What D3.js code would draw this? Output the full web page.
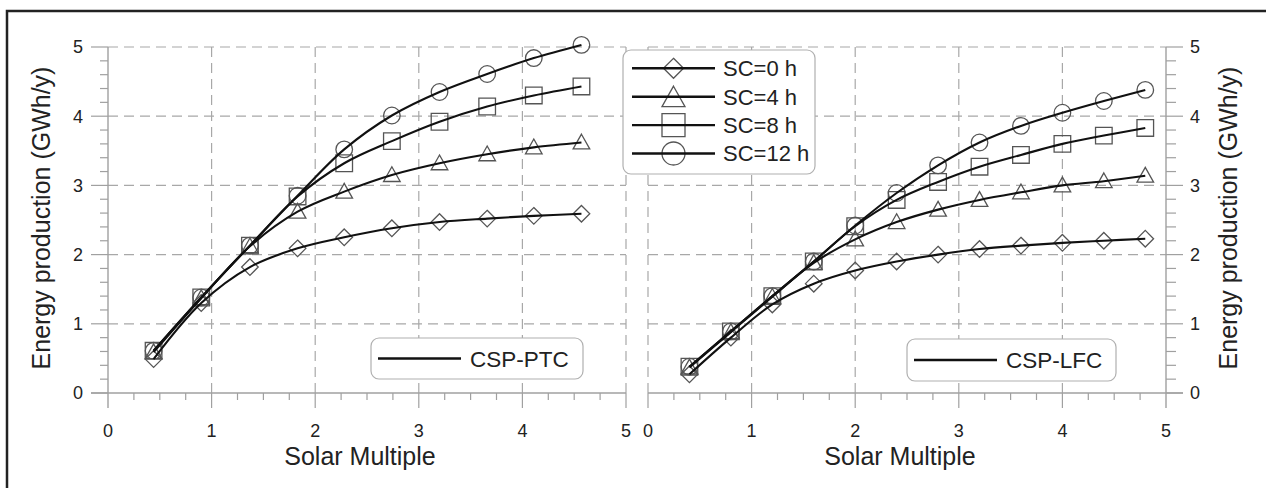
<!DOCTYPE html>
<html>
<head>
<meta charset="utf-8">
<script src="https://cdn.jsdelivr.net/npm/d3@7"></script>
<style>
  html, body { margin: 0; padding: 0; background: #fff; }
  svg { display: block; font-family: "Liberation Sans", Arial, sans-serif; }
</style>
</head>
<body>
<svg id="chart" width="1266" height="488"></svg>
<script>
// ---------- data ----------
const seriesNames = ["SC=0 h", "SC=4 h", "SC=8 h", "SC=12 h"];
const markerTypes = ["diamond", "triangle", "square", "circle"];

const ptcX    = [0.44, 0.90, 1.37, 1.83, 2.28, 2.74, 3.20, 3.66, 4.11, 4.57];
const ptcSC0  = [0.49, 1.30, 1.82, 2.09, 2.25, 2.38, 2.47, 2.52, 2.56, 2.59];
const ptcSC4  = [0.59, 1.37, 2.12, 2.62, 2.91, 3.15, 3.32, 3.45, 3.55, 3.62];
const ptcSC8  = [0.61, 1.38, 2.13, 2.84, 3.32, 3.64, 3.92, 4.14, 4.30, 4.43];
const ptcSC12 = [0.61, 1.38, 2.13, 2.85, 3.52, 4.01, 4.35, 4.61, 4.84, 5.03];

const lfcX    = [0.4, 0.8, 1.2, 1.6, 2.0, 2.4, 2.8, 3.2, 3.6, 4.0, 4.4, 4.8];
const lfcSC0  = [0.27, 0.80, 1.28, 1.58, 1.77, 1.90, 2.00, 2.08, 2.13, 2.17, 2.20, 2.23];
const lfcSC4  = [0.37, 0.88, 1.39, 1.88, 2.22, 2.47, 2.65, 2.79, 2.90, 3.00, 3.06, 3.14];
const lfcSC8  = [0.38, 0.89, 1.40, 1.90, 2.41, 2.79, 3.05, 3.27, 3.44, 3.60, 3.72, 3.83];
const lfcSC12 = [0.38, 0.89, 1.40, 1.90, 2.42, 2.89, 3.29, 3.62, 3.86, 4.05, 4.22, 4.38];

const xTicks = [0, 1, 2, 3, 4, 5];
const yTicks = [0, 1, 2, 3, 4, 5];
const xTitle = "Solar Multiple";
const yTitle = "Energy production (GWh/y)";
const panelLabels = ["CSP-PTC", "CSP-LFC"];

// ---------- setup ----------
const svg = d3.select("#chart");
const GRID = "#a8a8a8", AXIS = "#a0a0a0", TXT = "#222", MK = "#555";

// outer frame (top & left visible)
svg.append("path").attr("d", "M7,490 V11 H1270")
  .attr("fill", "none").attr("stroke", "#222").attr("stroke-width", 2.5);

const yScale = d3.scaleLinear().domain([0, 5]).range([393, 47]);
const xL = d3.scaleLinear().domain([0, 5]).range([108, 626]);
const xR = d3.scaleLinear().domain([0, 5]).range([648, 1166]);

function markerPath(type, s) {
  // s = half size
  if (type === "diamond") return `M0,${-s}L${s},0L0,${s}L${-s},0Z`;
  if (type === "triangle") return `M0,${-s}L${s},${s*0.78}L${-s},${s*0.78}Z`;
  if (type === "square") return `M${-s},${-s}H${s}V${s}H${-s}Z`;
  return null;
}
function drawMarker(g, type, x, y, s) {
  if (type === "circle") {
    g.append("circle").attr("cx", x).attr("cy", y).attr("r", s)
      .attr("fill", "none").attr("stroke", MK).attr("stroke-width", 1.3);
  } else {
    g.append("path").attr("d", markerPath(type, s))
      .attr("transform", `translate(${x},${y})`)
      .attr("fill", "none").attr("stroke", MK).attr("stroke-width", 1.3);
  }
}

function drawPanel(xs, side, xVals, series, label, legendBox) {
  const g = svg.append("g");
  const [x0, x1] = xs.range();
  const y0 = yScale(0), yTop = yScale(5);

  // horizontal dashed gridlines
  yTicks.filter(d => d > 0).forEach(d => {
    g.append("line").attr("x1", x0).attr("x2", x1)
      .attr("y1", yScale(d)).attr("y2", yScale(d))
      .attr("stroke", GRID).attr("stroke-width", 1.2).attr("stroke-dasharray", "10,6");
  });
  // vertical dashed gridlines
  xTicks.forEach(d => {
    const isAxis = (side === "left" && d === 0) || (side === "right" && d === 5);
    if (isAxis) return;
    g.append("line").attr("x1", xs(d)).attr("x2", xs(d))
      .attr("y1", yTop).attr("y2", y0)
      .attr("stroke", GRID).attr("stroke-width", 1.2).attr("stroke-dasharray", "10,6");
    g.append("line").attr("x1", xs(d)).attr("x2", xs(d))
      .attr("y1", y0).attr("y2", y0 + 15)
      .attr("stroke", AXIS).attr("stroke-width", 1.2);
  });

  // x axis line + minor ticks
  g.append("line").attr("x1", side === "left" ? x0 - 17 : x0).attr("x2", side === "right" ? x1 + 17 : x1)
    .attr("y1", y0).attr("y2", y0).attr("stroke", AXIS).attr("stroke-width", 1.4);
  d3.range(0, 5.001, 0.25).filter(v => Math.abs(v - Math.round(v)) > 1e-6).forEach(v => {
    g.append("line").attr("x1", xs(v)).attr("x2", xs(v)).attr("y1", y0).attr("y2", y0 + 7)
      .attr("stroke", AXIS).attr("stroke-width", 1.2);
  });

  // y axis
  const ax = side === "left" ? x0 : x1;
  const dir = side === "left" ? -1 : 1;
  g.append("line").attr("x1", ax).attr("x2", ax).attr("y1", yTop).attr("y2", y0 + 15)
    .attr("stroke", AXIS).attr("stroke-width", 1.4);
  yTicks.forEach(d => {
    g.append("line").attr("x1", ax).attr("x2", ax + dir * 17)
      .attr("y1", yScale(d)).attr("y2", yScale(d)).attr("stroke", AXIS).attr("stroke-width", 1.2);
  });
  d3.range(0, 5.001, 0.2).filter(v => Math.abs(v - Math.round(v)) > 1e-6).forEach(v => {
    g.append("line").attr("x1", ax).attr("x2", ax + dir * (side === "left" ? 8 : 10))
      .attr("y1", yScale(v)).attr("y2", yScale(v)).attr("stroke", AXIS).attr("stroke-width", 1.2);
  });

  // tick labels
  xTicks.forEach(d => {
    g.append("text").attr("x", xs(d)).attr("y", 437).attr("text-anchor", "middle")
      .attr("font-size", 18).attr("fill", TXT).text(d);
  });
  yTicks.forEach(d => {
    g.append("text").attr("x", side === "left" ? 83 : 1190).attr("y", yScale(d)).attr("dy", "0.36em")
      .attr("text-anchor", side === "left" ? "end" : "start")
      .attr("font-size", 18).attr("fill", TXT).text(d);
  });

  // axis titles
  g.append("text").attr("x", side === "left" ? 360 : 900).attr("y", 465)
    .attr("text-anchor", "middle").attr("font-size", 25).attr("fill", TXT).text(xTitle);
  g.append("text").attr("transform", `translate(${side === "left" ? 50 : 1237},218) rotate(-90)`)
    .attr("text-anchor", "middle").attr("font-size", 25).attr("fill", TXT).text(yTitle);

  // panel legend box
  const lb = legendBox;
  g.append("rect").attr("x", lb.x).attr("y", lb.y).attr("width", lb.w).attr("height", lb.h)
    .attr("rx", 8).attr("fill", "#fff").attr("stroke", "#b0b0b0").attr("stroke-width", 1.2);
  g.append("line").attr("x1", lb.x + 7).attr("x2", lb.x + 90)
    .attr("y1", lb.y + lb.h / 2).attr("y2", lb.y + lb.h / 2)
    .attr("stroke", "#111").attr("stroke-width", 2.5);
  g.append("text").attr("x", lb.x + 99).attr("y", lb.y + lb.h / 2).attr("dy", "0.36em")
    .attr("font-size", 22.5).attr("fill", TXT).text(label);

  // markers
  const mg = g.append("g");
  series.forEach((vals, i) => {
    vals.forEach((v, j) => drawMarker(mg, markerTypes[i], xs(xVals[j]), yScale(v), 8.3));
  });
  // lines
  const line = d3.line().x(d => xs(d[0])).y(d => yScale(d[1])).curve(d3.curveCatmullRom.alpha(0.5));
  series.forEach(vals => {
    g.append("path").attr("d", line(xVals.map((x, j) => [x, vals[j]])))
      .attr("fill", "none").attr("stroke", "#111").attr("stroke-width", 2.1);
  });
}

drawPanel(xL, "left", ptcX, [ptcSC0, ptcSC4, ptcSC8, ptcSC12], panelLabels[0],
  { x: 371, y: 338, w: 212, h: 41 });
drawPanel(xR, "right", lfcX, [lfcSC0, lfcSC4, lfcSC8, lfcSC12], panelLabels[1],
  { x: 907, y: 339, w: 209, h: 42 });

// series legend
const lg = svg.append("g");
lg.append("rect").attr("x", 623).attr("y", 50).attr("width", 192).attr("height", 124)
  .attr("rx", 8).attr("fill", "#fff").attr("stroke", "#b0b0b0").attr("stroke-width", 1.2);
const legendSizes = [10, 11.5, 11.5, 11.5];
seriesNames.forEach((name, i) => {
  const y = 68.3 + i * 28.4;
  drawMarker(lg, markerTypes[i], 673.5, y + (markerTypes[i] === "triangle" ? 1 : 0), legendSizes[i]);
  lg.append("line").attr("x1", 632).attr("x2", 715).attr("y1", y).attr("y2", y)
    .attr("stroke", "#111").attr("stroke-width", 2.4);
  lg.append("text").attr("x", 723).attr("y", y).attr("dy", "0.36em")
    .attr("font-size", 22).attr("fill", TXT).text(name);
});
</script>
</body>
</html>
